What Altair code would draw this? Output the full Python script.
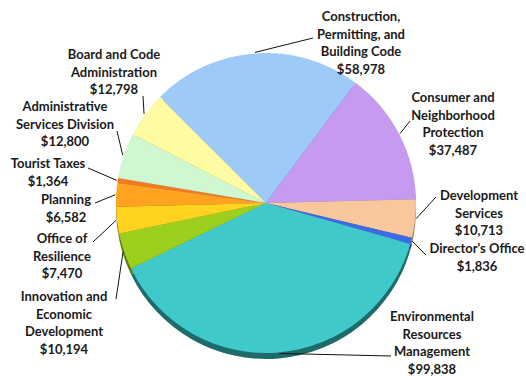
import math
import altair as alt
import pandas as pd

# ---- data ----
categories = [
    "Construction, Permitting, and Building Code",
    "Consumer and Neighborhood Protection",
    "Development Services",
    "Director's Office",
    "Environmental Resources Management",
    "Innovation and Economic Development",
    "Office of Resilience",
    "Planning",
    "Tourist Taxes",
    "Administrative Services Division",
    "Board and Code Administration",
]
values = [58978, 37487, 10713, 1836, 99838, 10194, 7470, 6582, 1364, 12800, 12798]
label_lines = [
    ["Construction,", "Permitting, and", "Building Code"],
    ["Consumer and", "Neighborhood", "Protection"],
    ["Development", "Services"],
    ["Director's Office"],
    ["Environmental", "Resources", "Management"],
    ["Innovation and", "Economic", "Development"],
    ["Office of", "Resilience"],
    ["Planning"],
    ["Tourist Taxes"],
    ["Administrative", "Services Division"],
    ["Board and Code", "Administration"],
]

# ---- styling / layout ----
colors = ["#9ECAF7", "#C79AF2", "#F9C79D", "#3A6CE8", "#3FC9CB", "#9DCF1F",
          "#FFD320", "#FFA320", "#F47A20", "#CFF7D0", "#FFFBA3"]
edge_colors = ["#5E7F9E", "#7D5E9A", "#9C7D62", "#26469A", "#1E6B6B", "#5E7E12",
               "#9C8214", "#9C6414", "#964A14", "#7E9A80", "#9C9A64"]
CX, CY, R, DEPTH = 266, 203, 150, 6
START = math.radians(315)
# label text block anchor (center x, top y) and leader-line start
label_pos = [(361, 11), (453, 92), (479, 190), (477, 243), (432, 311), (64, 291),
             (62, 233), (66, 194), (48, 158), (65, 101), (114, 49)]
leader_start = [(313, 38), (410, 121), (436, 197), (426, 255), (391, 356), (116, 299),
                (93, 242), (95, 203), (88, 168), (117, 131), (143, 96)]

total = sum(values)
rows = []
cum = 0.0
for i, (c, v) in enumerate(zip(categories, values)):
    mid = START + 2 * math.pi * (cum + v / 2) / total
    cum += v
    ex = CX + (R + 1) * math.sin(mid)
    ey = CY - (R + 1) * math.cos(mid)
    text = "\n".join(label_lines[i] + [f"${v:,}"])
    rows.append(dict(idx=i, category=c, value=v, color=colors[i], edge=edge_colors[i],
                     label=text, tx=label_pos[i][0], ty=label_pos[i][1],
                     lx=leader_start[i][0], ly=leader_start[i][1], ex=ex, ey=ey))
df = pd.DataFrame(rows)

theta = alt.Theta("value:Q", stack=True,
                  scale=alt.Scale(range=[START, START + 2 * math.pi]))
order = alt.Order("idx:Q")

base = alt.Chart(df)

shadow = base.mark_arc(radius=R).encode(
    theta=theta, order=order,
    x=alt.value(CX), y=alt.value(CY + DEPTH),
    color=alt.Color("edge:N", scale=None),
)
pie = base.mark_arc(radius=R).encode(
    theta=theta, order=order,
    x=alt.value(CX), y=alt.value(CY),
    color=alt.Color("color:N", scale=None),
)
leaders = base.mark_rule(color="#111111", strokeWidth=1).encode(
    x=alt.X("lx:Q", scale=None), y=alt.Y("ly:Q", scale=None),
    x2="ex:Q", y2="ey:Q",
)
labels = base.mark_text(font="Lato", fontWeight="bold", fontSize=13, color="#1a1a1a",
                        align="center", baseline="top", lineBreak="\n",
                        lineHeight=17.6).encode(
    x=alt.X("tx:Q", scale=None), y=alt.Y("ty:Q", scale=None), text="label:N",
)

chart = alt.layer(shadow, pie, leaders, labels).properties(
    width=526, height=376, autosize=alt.AutoSizeParams(type="none"), padding=0,
).configure_view(stroke=None)

chart.save("out.html", embed_options={"renderer": "svg", "actions": False})
